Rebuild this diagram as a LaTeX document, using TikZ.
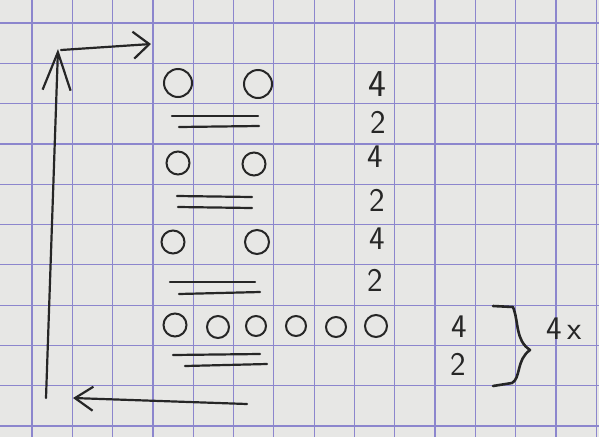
\documentclass[tikz,border=0pt]{standalone}
\usetikzlibrary{arrows.meta}
\definecolor{paper}{RGB}{231,231,229}
\definecolor{gridblue}{RGB}{140,134,205}
\definecolor{ink}{RGB}{38,38,38}

\begin{document}
\begin{tikzpicture}[x=1pt, y=-1pt,
    pen/.style={draw=ink, line width=2.2pt, line cap=round, line join=round},
    seat/.style={circle, draw=ink, line width=2pt, inner sep=0pt, minimum size=#1},
    seat/.default=22pt,
    digit/.style={text=ink, font=\sffamily\fontsize{33}{33}\selectfont, inner sep=0pt},
    gridline/.style={draw=gridblue, line width=1.2pt}]
    \fill[paper] (0,0) rectangle (599,437);
    \useasboundingbox (0,0) rectangle (599,437);
    \foreach \i in {0,...,14}
        \draw[gridline] ({32+40.3*\i},0) -- ({32+40.3*\i},437);
    \foreach \j in {0,...,10}
        \draw[gridline] (0,{23+40.3*\j}) -- (599,{23+40.3*\j});
    \coordinate (up0) at (46,398);
    \coordinate (up1) at (58,49);
    \coordinate (rt0) at (61,50);
    \coordinate (rt1) at (151,44);
    \coordinate (lf0) at (247,404);
    \coordinate (lf1) at (73,398);
    \draw[pen, -{Straight Barb[length=38pt, width=28pt, line width=2.2pt]}] (up0) -- (up1);
    \draw[pen, -{Straight Barb[length=16pt, width=27pt, line width=2.2pt]}] (rt0) -- (rt1);
    \draw[pen, -{Straight Barb[length=18pt, width=24pt, line width=2.2pt]}] (lf0) -- (lf1);
    \node[seat=28pt] (s11) at (178,83) {};
    \node[seat=28pt] (s12) at (258,84) {};
    \node[seat=23pt] (s21) at (178,163) {};
    \node[seat=23pt] (s22) at (254,164) {};
    \node[seat=23pt] (s31) at (173,242) {};
    \node[seat=24pt] (s32) at (257,242) {};
    \node[seat=23pt] (s41) at (175,325) {};
    \node[seat=22pt] (s42) at (218,327) {};
    \node[seat=20pt] (s43) at (256,326) {};
    \node[seat=20pt] (s44) at (296,326) {};
    \node[seat=20pt] (s45) at (336,327) {};
    \node[seat=22pt] (s46) at (376,326) {};
    \draw[pen] (172,116) -- (258,116);
    \draw[pen] (179,127) -- (259,126);
    \draw[pen] (177,196) -- (252,197);
    \draw[pen] (178,207) -- (252,208);
    \draw[pen] (170,282) -- (255,282);
    \draw[pen] (179,294) -- (260,292);
    \draw[pen] (173,355) -- (260,354);
    \draw[pen] (185,366) -- (267,364);
    \node[digit, font=\sffamily\fontsize{38}{38}\selectfont] (n1) at (377,84) {4};
    \node[digit] (n2) at (378,122) {2};
    \node[digit] (n3) at (375,157) {4};
    \node[digit] (n4) at (377,200) {2};
    \node[digit] (n5) at (377,239) {4};
    \node[digit] (n6) at (375,280) {2};
    \node[digit] (m1) at (459,327) {4};
    \node[digit] (m2) at (458,364) {2};
    \draw[pen, line width=2.6pt] (493,306) -- (513,307)
        .. controls (519,322) and (515,340) .. (530,350)
        .. controls (516,360) and (521,378) .. (512,383) -- (493,386);
    \node[digit] (times) at (564,329) {4\,x};
\end{tikzpicture}
\end{document}
